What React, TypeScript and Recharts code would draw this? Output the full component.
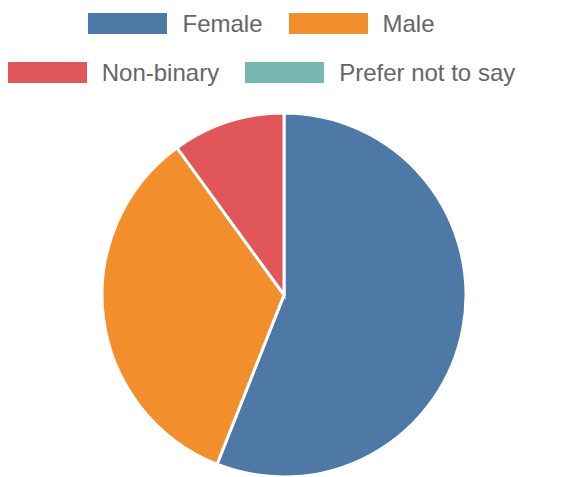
import React from 'react';
import { PieChart, Pie, Cell } from 'recharts';

const categories = ['Female', 'Male', 'Non-binary', 'Prefer not to say'];
const values = [56, 34, 10, 0];
const colors = ['#4e79a7', '#f28e2b', '#e15759', '#76b7b2'];
const legendRows = [[0, 1], [2, 3]];

const data = categories.map((name, i) => ({ name, value: values[i] }));

const FONT = '"Liberation Sans", Arial, sans-serif';

const LegendBlock = () => (
  <div
    style={{
      position: 'absolute',
      left: 0,
      top: 13,
      width: 567,
      boxSizing: 'border-box',
      paddingRight: 44,
    }}
  >
    {legendRows.map((row, r) => (
      <div
        key={r}
        style={{ display: 'flex', justifyContent: 'center', height: 21, marginTop: r === 0 ? 0 : 28 }}
      >
        {row.map((i, k) => (
          <div key={categories[i]} style={{ display: 'flex', alignItems: 'center', marginLeft: k === 1 ? 26 : 0, height: 21 }}>
            <div style={{ width: 79, height: 21, background: colors[i], marginRight: 15 }} />
            <span style={{ fontFamily: FONT, fontSize: 24, color: '#666', lineHeight: '21px', whiteSpace: 'nowrap' }}>
              {categories[i]}
            </span>
          </div>
        ))}
      </div>
    ))}
  </div>
);

export default function App() {
  return (
    <div style={{ position: 'absolute', left: 0, top: 0, width: 567, height: 477, background: '#fff' }}>
      <PieChart width={567} height={477} margin={{ top: 0, right: 0, bottom: 0, left: 0 }}>
        <Pie
          data={data}
          dataKey="value"
          nameKey="name"
          cx={284}
          cy={295}
          outerRadius={182}
          startAngle={90}
          endAngle={-270}
          stroke="#fff"
          strokeWidth={3}
          isAnimationActive={false}
        >
          {data.map((d, i) => (
            <Cell key={d.name} fill={colors[i]} />
          ))}
        </Pie>
      </PieChart>
      <LegendBlock />
    </div>
  );
}
